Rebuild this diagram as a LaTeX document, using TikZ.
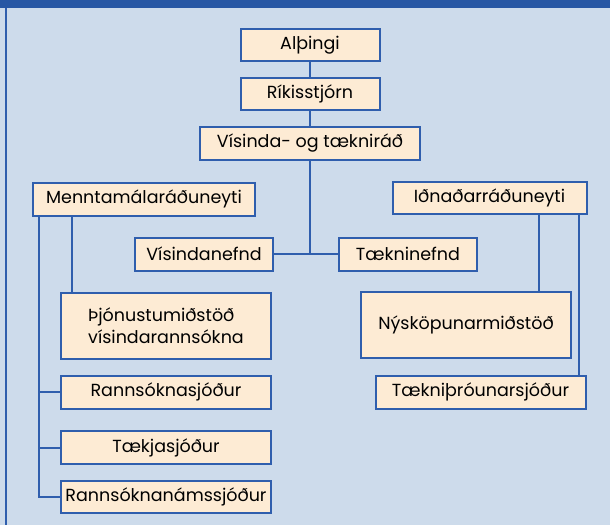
\documentclass[tikz,border=0pt]{standalone}
\usepackage{fontspec}
\setmainfont{Poppins}
\usetikzlibrary{positioning,calc}
\definecolor{Panel}{HTML}{CDDBEB}
\definecolor{Bar}{HTML}{2757A4}
\definecolor{Edge}{HTML}{2F5EAD}
\definecolor{Card}{HTML}{FDEBD4}

\begin{document}
\begin{tikzpicture}[x=1pt, y=-1pt,
  box/.style={draw=Edge, line width=2pt, fill=Card, align=center, inner sep=2pt, minimum height=32pt, font=\fontsize{17.5}{22}\selectfont},
  link/.style={draw=Edge, line width=2pt} ]

\fill[Panel] (0,0) rectangle (610,525);
\useasboundingbox (0,0) rectangle (610,525);
\fill[Bar] (0,0) rectangle (610,8);
\draw[Edge, line width=2pt] (6,8) -- (6,525);

\node[box, minimum width=139pt] (alt) at (310,45) {Alþingi};
\node[box, minimum width=139pt] (rik) at (310,94) {Ríkisstjórn};
\node[box, minimum width=220pt, minimum height=33pt] (vtr) at (310,143.5) {Vísinda- og tækniráð};
\node[box, minimum width=222pt, minimum height=33pt] (mrn) at (144,199) {Menntamálaráðuneyti};
\node[box, minimum width=194pt] (irn) at (489.5,198) {Iðnaðarráðuneyti};
\node[box, minimum width=138pt, minimum height=33pt] (vn) at (204,254) {Vísindanefnd};
\node[box, minimum width=138pt, minimum height=33pt] (tn) at (408,254) {Tækninefnd};
\node[box, minimum width=210pt, minimum height=66pt, align=left] (thjon) at (166,326) {Þjónustumiðstöð\\vísindarannsókna};
\node[box, minimum width=210pt, minimum height=66pt] (nysk) at (466,324.5) {Nýsköpunarmiðstöð};
\node[box, minimum width=210pt, minimum height=33pt] (tthr) at (480.5,392) {Tækniþróunarsjóður};
\node[box, minimum width=210pt, minimum height=33pt] (rs) at (166,392) {Rannsóknasjóður};
\node[box, minimum width=210pt, minimum height=33pt] (tk) at (166,447.5) {Tækjasjóður};
\node[box, minimum width=210pt, minimum height=32pt] (rns) at (166,496.5) {Rannsóknanámssjóður};

\draw[link] (alt) -- (rik);
\draw[link] (rik) -- (vtr);
\draw[link] (vtr.south) -- (vtr.south |- vn.east);
\draw[link] (vn.east) -- (tn.west);

\coordinate (m1) at ($(mrn.south west)+(7,0)$);
\coordinate (m2) at ($(mrn.south west)+(40,0)$);
\draw[link] (m1) |- (rns.west);
\draw[link] (m1 |- rs.west) -- (rs.west);
\draw[link] (m1 |- tk.west) -- (tk.west);
\draw[link] (m2) -- (m2 |- thjon.north);

\coordinate (i1) at ($(irn.south east)+(-49,0)$);
\coordinate (i2) at ($(irn.south east)+(-9,0)$);
\draw[link] (i1) -- (i1 |- nysk.north);
\draw[link] (i2) -- (i2 |- tthr.north);

\end{tikzpicture}
\end{document}
